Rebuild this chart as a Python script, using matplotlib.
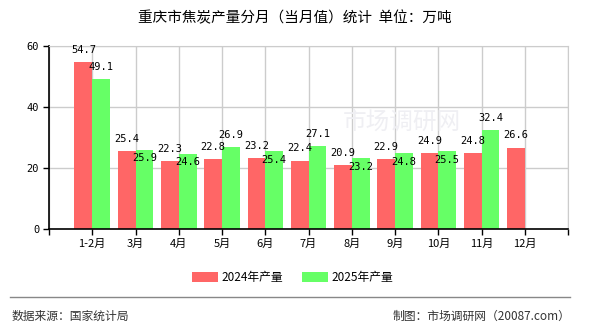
import matplotlib
matplotlib.use('Agg')
import matplotlib.pyplot as plt
import numpy as np

plt.rcParams['font.family'] = ['Noto Sans CJK SC', 'DejaVu Sans']

# data
months = ['1-2月', '3月', '4月', '5月', '6月', '7月', '8月', '9月', '10月', '11月', '12月']
prod_2024 = [54.7, 25.4, 22.3, 22.8, 23.2, 22.4, 20.9, 22.9, 24.9, 24.8, 26.6]
prod_2025 = [49.1, 25.9, 24.6, 26.9, 25.4, 27.1, 23.2, 24.8, 25.5, 32.4]
yticks = [0, 20, 40, 60]

red = '#ff6666'
green = '#66ff66'

fig = plt.figure(figsize=(5.9, 3.3), dpi=100)
ax = fig.add_axes([0.083, 0.306, 0.880, 0.555])

x = np.arange(len(months))
w = 0.41
ax.bar(x[:len(prod_2024)] - w / 2, prod_2024, w, color=red, label='2024年产量', zorder=2)
ax.bar(x[:len(prod_2025)] + w / 2, prod_2025, w, color=green, label='2025年产量', zorder=2)

lab_font = dict(family='DejaVu Sans Mono', fontsize=7.5, color='black', zorder=3)
for i, v in enumerate(prod_2024):
    ax.text(i - w / 2, v + 2.4, f'{v:.1f}', ha='center', va='bottom', **lab_font)
for i, v in enumerate(prod_2025):
    r = prod_2024[i]
    if v < r or v - r > 3:
        ax.text(i + w / 2, v + 2.4, f'{v:.1f}', ha='center', va='bottom', **lab_font)
    else:
        ax.text(i + w / 2, v - 1.1, f'{v:.1f}', ha='center', va='top', **lab_font)

ax.set_xlim(-1, len(months))
ax.set_ylim(0, 60)
ax.set_yticks(yticks)
ax.set_yticklabels([str(t) for t in yticks], family='DejaVu Sans Mono', fontsize=7.5)
ax.set_xticks(np.arange(-1, len(months) + 1))
ax.set_xticklabels([''] + months + [''], fontsize=8)
ax.tick_params(axis='both', direction='out', length=4, width=1, color='black', pad=3)
ax.grid(True, color='#cccccc', linewidth=1, zorder=0)
ax.set_axisbelow(True)
for s in ['top', 'right']:
    ax.spines[s].set_color('#cccccc')
for s in ['left', 'bottom']:
    ax.spines[s].set_color('black')
    ax.spines[s].set_linewidth(1.2)

# faint watermark
ax.text(7.15, 35, '市场调研网', fontsize=17, color='#efeff3', ha='center', va='center', zorder=1)

fig.text(0.5, 0.945, '重庆市焦炭产量分月（当月值）统计  单位：万吨', ha='center', va='center', fontsize=10.5)

ax.legend(loc='upper center', bbox_to_anchor=(0.47, -0.17), ncol=2, frameon=False,
          fontsize=8.5, handlelength=2.2, handleheight=0.9, columnspacing=1.6, handletextpad=0.3)

fig.add_artist(plt.Line2D([0.017, 0.966], [0.1, 0.1], color='#888888', linewidth=1))
fig.text(0.02, 0.042, '数据来源：国家统计局', ha='left', va='center', fontsize=8.5, color='#333333')
fig.text(0.966, 0.042, '制图：市场调研网（20087.com）', ha='right', va='center', fontsize=8.5, color='#333333')

fig.savefig('out.png', dpi=100)
